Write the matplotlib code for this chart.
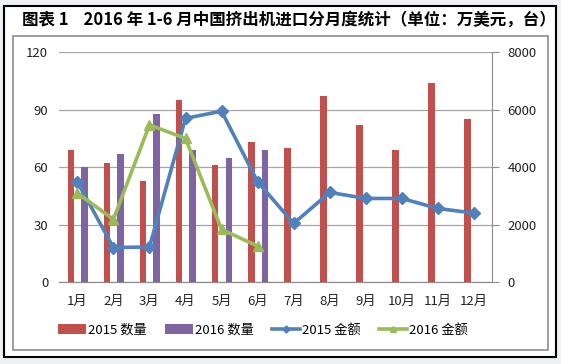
import matplotlib.pyplot as plt
import matplotlib.patches as patches
import numpy as np

plt.rcParams['font.family'] = ['Noto Sans CJK SC', 'DejaVu Sans']

months = ['1月', '2月', '3月', '4月', '5月', '6月', '7月', '8月', '9月', '10月', '11月', '12月']
qty_2015 = [69, 62, 53, 95, 61, 73, 70, 97, 82, 69, 104, 85]
qty_2016 = [60, 67, 88, 69, 65, 69]
amt_2015 = [3490, 1200, 1220, 5700, 5950, 3490, 2040, 3120, 2910, 2910, 2560, 2400]
amt_2016 = [3100, 2180, 5470, 5000, 1830, 1250]

red = '#c0504d'
purple = '#8064a2'
blue = '#4f81bd'
green = '#9bbb59'
W, H = 561, 364

fig = plt.figure(figsize=(W / 100, H / 100), dpi=100)
fig.patch.set_facecolor('#eef0f3')

# outer black box and inner gray chart frame
fig.patches.append(patches.Rectangle((4 / W, 1 - 357 / H), 552 / W, 351 / H, transform=fig.transFigure,
                                     facecolor='white', edgecolor='black', lw=1.5, zorder=0))
fig.patches.append(patches.Rectangle((13 / W, 1 - 350 / H), 535 / W, 314 / H, transform=fig.transFigure,
                                     facecolor='white', edgecolor='#8c8c8c', lw=1.2, zorder=1))

fig.text(22 / W, 1 - 20 / H, '图表 1    2016 年 1-6 月中国挤出机进口分月度统计（单位：万美元，台）',
         fontsize=11.9, fontweight='bold', va='center', ha='left')

ax = fig.add_axes([59.3 / W, 82 / H, 432.7 / W, 229.7 / H])
ax.patch.set_alpha(0)
ax2 = ax.twinx()
ax.set_zorder(2)
ax2.set_zorder(3)

x = np.arange(len(months))
bw = 0.18
ax.bar(x - 0.175, qty_2015, width=bw, color=red, label='2015 数量', zorder=3)
ax.bar(x[:len(qty_2016)] + 0.2, qty_2016, width=bw, color=purple, label='2016 数量', zorder=3)

ax.set_ylim(0, 120)
ax.set_yticks([0, 30, 60, 90, 120])
ax.set_xlim(-0.5, 11.5)
ax.set_xticks(x)
ax.set_xticklabels(months)
ax.yaxis.grid(True, color='#a6a6a6', lw=0.9)
ax.set_axisbelow(True)

ax2.plot(x, amt_2015, color=blue, lw=2.6, marker='D', ms=6, label='2015 金额')
ax2.plot(x[:len(amt_2016)], amt_2016, color=green, lw=2.6, marker='^', ms=7, label='2016 金额')
ax2.set_ylim(0, 8000)
ax2.set_yticks([0, 2000, 4000, 6000, 8000])

for a in (ax, ax2):
    for s in ('top', 'left'):
        a.spines[s].set_visible(False)
    a.spines['right'].set_visible(False)
    a.spines['bottom'].set_color('#8c8c8c')
    a.tick_params(labelsize=9.5, colors='#222222', length=0, pad=8)
ax2.spines['right'].set_visible(True)
ax2.spines['right'].set_color('#8c8c8c')
ax2.tick_params(axis='y', length=5, color='#8c8c8c', pad=6)
ax.tick_params(axis='x', pad=9)

h1, l1 = ax.get_legend_handles_labels()
h2, l2 = ax2.get_legend_handles_labels()
fig.legend(h1 + h2, l1 + l2, loc='center', bbox_to_anchor=(263 / W, 1 - 330 / H), ncol=4,
           frameon=False, fontsize=9.5, handlelength=2.1, handleheight=0.7, columnspacing=1.4,
           handletextpad=0.15, markerscale=0.6)

fig.savefig('out.png', dpi=100, facecolor=fig.get_facecolor())
